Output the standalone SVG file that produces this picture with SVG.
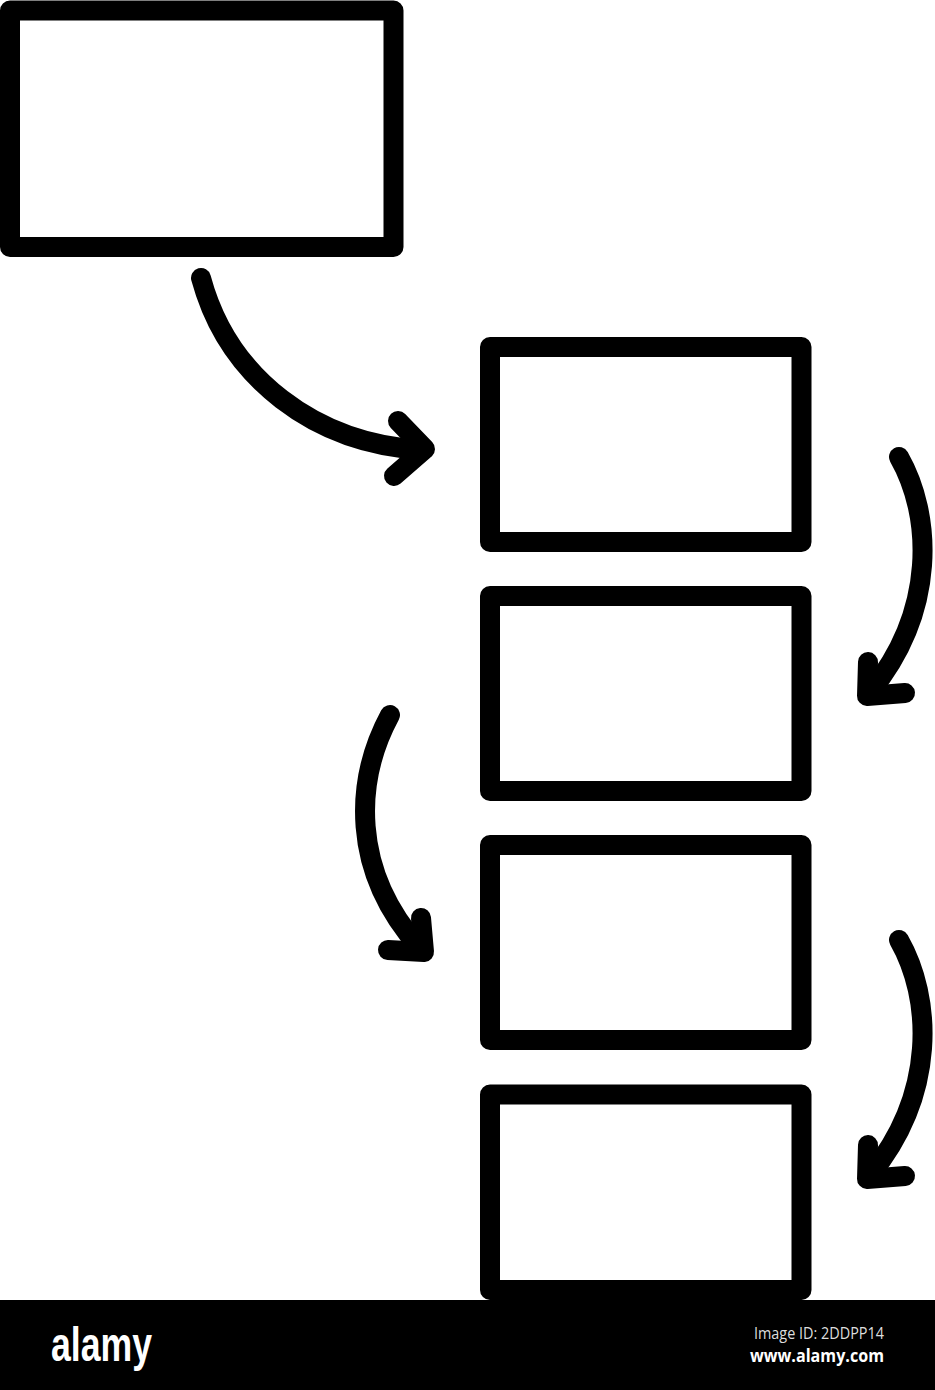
<svg xmlns="http://www.w3.org/2000/svg" width="935" height="1390" viewBox="0 0 935 1390">
<style>
.box{fill:#fff;stroke:#000;stroke-width:20;stroke-linejoin:round}
.con{fill:none;stroke:#000;stroke-width:20;stroke-linecap:round;stroke-linejoin:round}
</style>
<rect width="935" height="1390" fill="#fff"/>
<g id="node1"><rect class="box" x="10" y="10.5" width="383.5" height="236.5"/></g>
<g id="node2"><rect class="box" x="490" y="347" width="311.5" height="195"/></g>
<g id="node3"><rect class="box" x="490" y="596" width="311.5" height="195"/></g>
<g id="node4"><rect class="box" x="490" y="845" width="311.5" height="195"/></g>
<g id="node5"><rect class="box" x="490" y="1094.5" width="311.5" height="195.5"/></g>
<g id="connectors">
<path class="con" d="M201,278 C228,378 315,444 423,450"/>
<polyline class="con" points="398,421 425,449 394,476"/>
<path class="con" d="M899,457 C932,515 937,610 870,692"/>
<polyline class="con" points="868,662 867,696 905,693"/>
<path class="con" d="M390,715 C355,780 350,870 420,948"/>
<polyline class="con" points="421,918 424,952 388,950"/>
<g transform="translate(0,483)">
<path class="con" d="M899,457 C932,515 937,610 870,692"/>
<polyline class="con" points="868,662 867,696 905,693"/>
</g>
</g>
<g id="watermark">
<rect x="0" y="1300" width="935" height="90" fill="#000"/>
<text x="51" y="1361" font-family="Liberation Sans, sans-serif" font-weight="bold" font-size="48" fill="#fff" textLength="101" lengthAdjust="spacingAndGlyphs">alamy</text>
<text x="754" y="1339" font-family="Open Sans, sans-serif" font-size="16" fill="#ddd" textLength="130" lengthAdjust="spacingAndGlyphs">Image ID: 2DDPP14</text>
<text x="750" y="1362" font-family="Open Sans, sans-serif" font-weight="bold" font-size="18" fill="#fff" textLength="134" lengthAdjust="spacingAndGlyphs">www.alamy.com</text>
</g>
</svg>
